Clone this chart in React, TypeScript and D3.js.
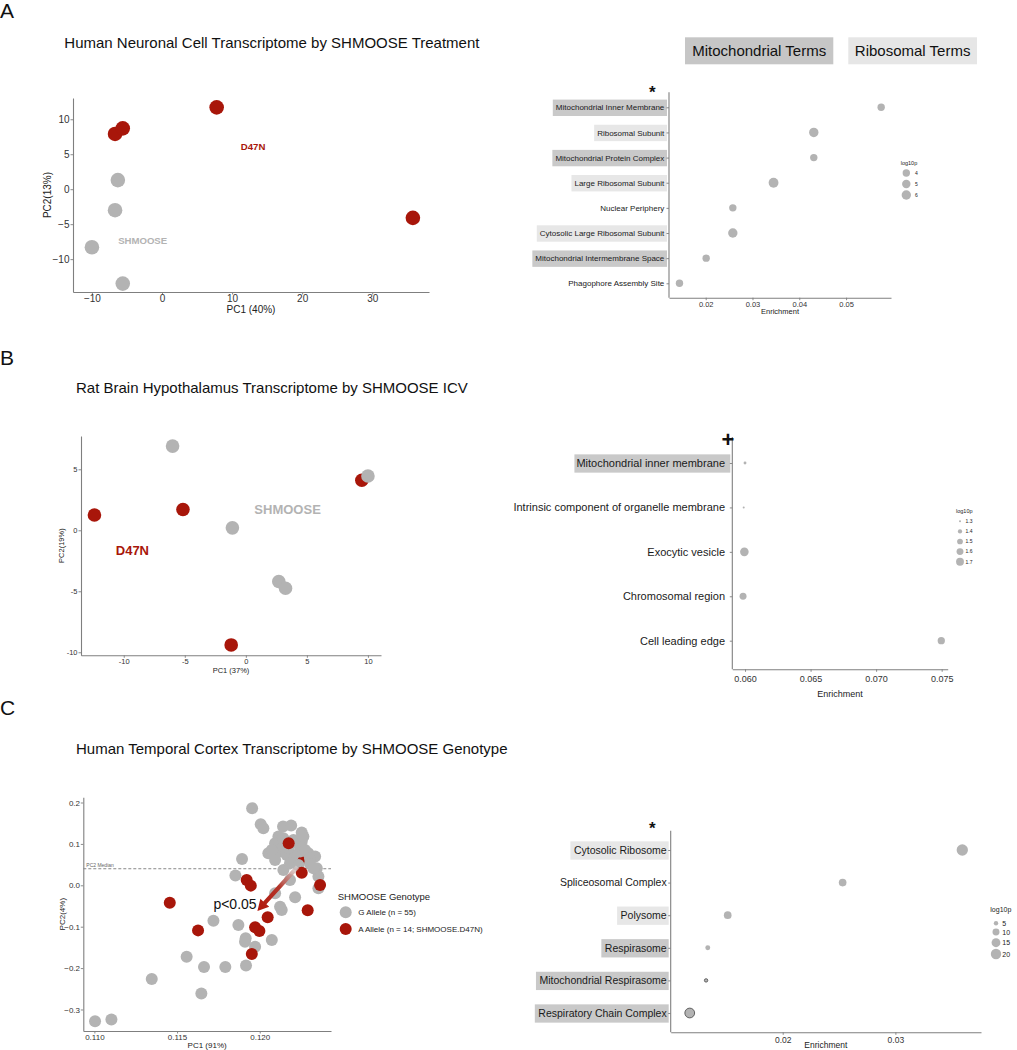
import React, { useEffect, useRef } from "react";
import * as d3 from "d3";

const FONT = "'Liberation Sans', Arial, Helvetica, sans-serif";
const GRAY = "#b3b3b3";
const RED = "#a8160a";
const AXIS_COLOR = "#7f7f7f";
const MITO_FILL = "#c9c9c9";
const RIBO_FILL = "#e7e7e7";

// ---------------- Panel A : PCA ----------------
const pcaA_shmoose = [
  { pc1: -6.3, pc2: 1.3 },
  { pc1: -6.7, pc2: -3.0 },
  { pc1: -10.0, pc2: -8.3 },
  { pc1: -5.6, pc2: -13.5 },
];
const pcaA_d47n = [
  { pc1: -6.7, pc2: 7.9 },
  { pc1: -5.6, pc2: 8.7 },
  { pc1: 7.8, pc2: 11.7 },
  { pc1: 35.8, pc2: -4.1 },
];
const pcaA_xTicks = [-10, 0, 10, 20, 30];
const pcaA_yTicks = [-10, -5, 0, 5, 10];

// ---------------- Panel A : enrichment ----------------
const enrA_terms = [
  "Mitochondrial Inner Membrane",
  "Ribosomal Subunit",
  "Mitochondrial Protein Complex",
  "Large Ribosomal Subunit",
  "Nuclear Periphery",
  "Cytosolic Large Ribosomal Subunit",
  "Mitochondrial Intermembrane Space",
  "Phagophore Assembly Site",
];
const enrA_group = ["mito", "ribo", "mito", "ribo", "none", "ribo", "mito", "none"];
const enrA_enrichment = [0.0575, 0.0431, 0.0431, 0.0345, 0.0258, 0.0258, 0.0201, 0.0144];
const enrA_log10p = [4.0, 6.0, 4.0, 6.5, 4.0, 6.0, 4.0, 4.0];
const enrA_xTicks = [0.02, 0.03, 0.04, 0.05];
const enrA_legend = [4, 5, 6];

// ---------------- Panel B : PCA ----------------
const pcaB_shmoose = [
  { pc1: -6.0, pc2: 6.9 },
  { pc1: -1.1, pc2: 0.2 },
  { pc1: 10.0, pc2: 4.45 },
  { pc1: 2.7, pc2: -4.2 },
  { pc1: 3.25, pc2: -4.75 },
];
const pcaB_d47n = [
  { pc1: -12.4, pc2: 1.25 },
  { pc1: -5.15, pc2: 1.7 },
  { pc1: 9.5, pc2: 4.1 },
  { pc1: -1.2, pc2: -9.4 },
];
const pcaB_xTicks = [-10, -5, 0, 5, 10];
const pcaB_yTicks = [-10, -5, 0, 5];

// ---------------- Panel B : enrichment ----------------
const enrB_terms = [
  "Mitochondrial inner membrane",
  "Intrinsic component of organelle membrane",
  "Exocytic vesicle",
  "Chromosomal region",
  "Cell leading edge",
];
const enrB_group = ["mito", "none", "none", "none", "none"];
const enrB_enrichment = [0.06, 0.0599, 0.05995, 0.05985, 0.07497];
const enrB_log10p = [1.33, 1.3, 1.78, 1.61, 1.64];
const enrB_xTicks = [0.06, 0.065, 0.07, 0.075];
const enrB_legend = [1.3, 1.4, 1.5, 1.6, 1.7];

// ---------------- Panel C : PCA ----------------
const pcaC_G = [
  { pc1: 0.11954, pc2: 0.1863 }, { pc1: 0.12006, pc2: 0.1476 }, { pc1: 0.12022, pc2: 0.1379 },
  { pc1: 0.12141, pc2: 0.1419 }, { pc1: 0.1219, pc2: 0.1444 }, { pc1: 0.12254, pc2: 0.1274 },
  { pc1: 0.12113, pc2: 0.1177 }, { pc1: 0.12093, pc2: 0.1016 }, { pc1: 0.12123, pc2: 0.0815 },
  { pc1: 0.12052, pc2: 0.0774 }, { pc1: 0.12093, pc2: 0.0613 }, { pc1: 0.12163, pc2: 0.0734 },
  { pc1: 0.12224, pc2: 0.1016 }, { pc1: 0.12254, pc2: 0.1056 }, { pc1: 0.12244, pc2: 0.0815 },
  { pc1: 0.12294, pc2: 0.0774 }, { pc1: 0.12335, pc2: 0.0694 }, { pc1: 0.12204, pc2: 0.0734 },
  { pc1: 0.11893, pc2: 0.0637 }, { pc1: 0.11853, pc2: 0.0234 }, { pc1: 0.12143, pc2: 0.0371 },
  { pc1: 0.12183, pc2: 0.0129 }, { pc1: 0.12355, pc2: 0.021 }, { pc1: 0.12345, pc2: 0.0411 },
  { pc1: 0.12355, pc2: -0.0073 }, { pc1: 0.12093, pc2: -0.0194 }, { pc1: 0.12214, pc2: -0.029 },
  { pc1: 0.12123, pc2: -0.0516 }, { pc1: 0.12133, pc2: -0.0597 }, { pc1: 0.1172, pc2: -0.0855 },
  { pc1: 0.11871, pc2: -0.096 }, { pc1: 0.11915, pc2: -0.1282 }, { pc1: 0.11911, pc2: -0.1363 },
  { pc1: 0.11972, pc2: -0.1484 }, { pc1: 0.12073, pc2: -0.1323 }, { pc1: 0.11558, pc2: -0.1726 },
  { pc1: 0.11663, pc2: -0.1976 }, { pc1: 0.11792, pc2: -0.1976 }, { pc1: 0.11917, pc2: -0.1935 },
  { pc1: 0.11347, pc2: -0.2266 }, { pc1: 0.11647, pc2: -0.2613 }, { pc1: 0.11004, pc2: -0.3282 },
  { pc1: 0.11103, pc2: -0.3242 }, { pc1: 0.12143, pc2: 0.1137 }, { pc1: 0.12173, pc2: 0.0895 },
  { pc1: 0.12204, pc2: 0.1097 }, { pc1: 0.12274, pc2: 0.0855 }, { pc1: 0.12304, pc2: 0.0653 },
  { pc1: 0.12183, pc2: 0.0532 }, { pc1: 0.12234, pc2: 0.0492 }, { pc1: 0.12304, pc2: 0.0516 },
  { pc1: 0.12264, pc2: 0.1177 }, { pc1: 0.12143, pc2: 0.0935 }, { pc1: 0.12073, pc2: 0.0855 },
  { pc1: 0.12325, pc2: 0.0411 },
];
// A allele samples partly hidden behind the G cluster
const pcaC_A_behind = [
  { pc1: 0.12204, pc2: 0.0694 },
  { pc1: 0.12264, pc2: 0.0653 },
];
const pcaC_A = [
  { pc1: 0.12175, pc2: 0.1016 }, { pc1: 0.12254, pc2: 0.0306 }, { pc1: 0.12365, pc2: 0.0008 },
  { pc1: 0.11921, pc2: 0.0129 }, { pc1: 0.11946, pc2: -0.0008 }, { pc1: 0.11456, pc2: -0.0419 },
  { pc1: 0.1229, pc2: -0.0605 }, { pc1: 0.12048, pc2: -0.0774 }, { pc1: 0.11627, pc2: -0.1089 },
  { pc1: 0.11972, pc2: -0.1016 }, { pc1: 0.11998, pc2: -0.1105 }, { pc1: 0.11952, pc2: -0.1661 },
];
const pcaC_xTicks = [0.11, 0.115, 0.12];
const pcaC_yTicks = [-0.3, -0.2, -0.1, 0, 0.1, 0.2];
const pcaC_median = 0.04;
const pcaC_arrow = { from: { pc1: 0.12228, pc2: 0.0442 }, to: { pc1: 0.11986, pc2: -0.062 } };

// ---------------- Panel C : enrichment ----------------
const enrC_terms = [
  "Cytosolic Ribosome",
  "Spliceosomal Complex",
  "Polysome",
  "Respirasome",
  "Mitochondrial Respirasome",
  "Respiratory Chain Complex",
];
const enrC_group = ["ribo", "none", "ribo", "mito", "mito", "mito"];
const enrC_enrichment = [0.03594, 0.02532, 0.01512, 0.01335, 0.0132, 0.01175];
const enrC_log10p = [23.5, 11.7, 11.7, 5.9, 3.7, 17.9];
const enrC_xTicks = [0.02, 0.03];
const enrC_legend = [5, 10, 15, 20];
const enrC_outlined = ["Mitochondrial Respirasome", "Respiratory Chain Complex"];

type Sel = d3.Selection<any, any, any, any>;

function text(g: Sel, x: number, y: number, s: string, size: number, opts: any = {}) {
  const t = g
    .append("text")
    .attr("x", x)
    .attr("y", y)
    .attr("font-family", FONT)
    .attr("font-size", size)
    .attr("fill", opts.fill || "#111")
    .attr("text-anchor", opts.anchor || "start")
    .attr("font-weight", opts.weight || "normal")
    .text(s);
  if (opts.rotate) t.attr("transform", `rotate(-90,${x},${y})`);
  return t;
}

function styleAxis(g: Sel, size: number) {
  g.attr("font-family", FONT).attr("font-size", size);
  g.select(".domain").attr("stroke", AXIS_COLOR).attr("stroke-width", 1.1);
  g.selectAll(".tick line").attr("stroke", AXIS_COLOR).attr("stroke-width", 0.9);
  g.selectAll(".tick text").attr("fill", "#333");
}

function drawPCA(svg: Sel, cfg: any, points: { pc1: number; pc2: number; color: string }[], labels: any[]) {
  const g = svg.append("g");
  const x = d3.scaleLinear().domain(cfg.xDomain).range([cfg.l, cfg.r]);
  const y = d3.scaleLinear().domain(cfg.yDomain).range([cfg.b, cfg.t]);
  const gx = g
    .append("g")
    .attr("transform", `translate(0,${cfg.b})`)
    .call(d3.axisBottom(x).tickValues(cfg.xTicks).tickSize(2.5).tickSizeOuter(0).tickPadding(cfg.xPad).tickFormat(cfg.xFmt));
  styleAxis(gx, cfg.tickFont);
  const gy = g
    .append("g")
    .attr("transform", `translate(${cfg.l},0)`)
    .call(d3.axisLeft(y).tickValues(cfg.yTicks).tickSize(2.5).tickSizeOuter(0).tickPadding(cfg.yPad).tickFormat(cfg.yFmt));
  styleAxis(gy, cfg.tickFont);

  text(g, (cfg.l + cfg.r) / 2, cfg.xTitleY, cfg.xTitle, cfg.titleFont, { anchor: "middle", fill: "#222" });
  text(g, cfg.yTitleX, (cfg.t + cfg.b) / 2, cfg.yTitle, cfg.titleFont, { anchor: "middle", fill: "#222", rotate: true });

  if (cfg.extra) cfg.extra(g, x, y);

  g.selectAll("circle.pt")
    .data(points)
    .join("circle")
    .attr("class", "pt")
    .attr("cx", (d) => x(d.pc1))
    .attr("cy", (d) => y(d.pc2))
    .attr("r", cfg.radius)
    .attr("fill", (d) => d.color);

  labels.forEach((lb) => {
    text(g, x(lb.pc1), y(lb.pc2) + lb.size * 0.36, lb.text, lb.size, { anchor: "middle", fill: lb.color, weight: "bold" });
  });
  return { g, x, y };
}

function drawEnrichment(svg: Sel, cfg: any, terms: string[], groups: string[], enr: number[], logp: number[], legendVals: number[], outlined: string[] = []) {
  const g = svg.append("g");
  const x = d3.scaleLinear().domain(cfg.xDomain).range([cfg.l, cfg.r]);
  const y = d3.scalePoint().domain(terms).range([cfg.yFirst, cfg.yLast]);
  const area = d3.scaleLinear().domain(cfg.sizeDomain).range(cfg.areaRange);
  const rad = (v: number) => Math.sqrt(Math.max(area(v), 0.6));

  const gx = g
    .append("g")
    .attr("transform", `translate(0,${cfg.b})`)
    .call(d3.axisBottom(x).tickValues(cfg.xTicks).tickSize(2.5).tickSizeOuter(0).tickPadding(cfg.xPad).tickFormat(d3.format(cfg.xFmt)));
  styleAxis(gx, cfg.tickFont);

  const gy = g
    .append("g")
    .attr("transform", `translate(${cfg.l},0)`)
    .call(d3.axisLeft(y).tickSize(2.5).tickSizeOuter(0).tickPadding(cfg.yPad));
  styleAxis(gy, cfg.labelFont);
  gy.select(".domain").remove();
  gy.selectAll(".tick text").attr("fill", "#1a1a1a");
  gy.selectAll(".tick").each(function (d: any) {
    const grp = groups[terms.indexOf(d)];
    if (grp === "none") return;
    const tick = d3.select(this);
    const bb = (tick.select("text").node() as SVGTextElement).getBBox();
    const left = bb.x - cfg.boxPadL;
    tick
      .insert("rect", ":first-child")
      .attr("x", left)
      .attr("width", -2 - left)
      .attr("y", -cfg.boxH / 2)
      .attr("height", cfg.boxH)
      .attr("fill", grp === "mito" ? MITO_FILL : RIBO_FILL);
  });
  g.append("line")
    .attr("x1", cfg.l)
    .attr("x2", cfg.l)
    .attr("y1", cfg.t)
    .attr("y2", cfg.b)
    .attr("stroke", AXIS_COLOR)
    .attr("stroke-width", 1.1);

  text(g, (cfg.l + cfg.r) / 2, cfg.xTitleY, "Enrichment", cfg.tickFont, { anchor: "middle", fill: "#222" });

  g.selectAll("circle.dot")
    .data(terms)
    .join("circle")
    .attr("class", "dot")
    .attr("cx", (d, i) => x(enr[i]))
    .attr("cy", (d) => y(d) as number)
    .attr("r", (d, i) => rad(logp[i]))
    .attr("fill", GRAY)
    .attr("stroke", (d) => (outlined.includes(d) ? "#555" : "none"))
    .attr("stroke-width", 0.9);

  // legend
  const lg = cfg.legend;
  text(g, lg.x, lg.titleY, "log10p", lg.titleFont, { fill: "#222" });
  legendVals.forEach((v, i) => {
    const cy = lg.y0 + i * lg.dy + (lg.extra ? lg.extra[i] : 0);
    g.append("circle").attr("cx", lg.cx).attr("cy", cy).attr("r", rad(v)).attr("fill", GRAY);
    text(g, lg.labelX, cy + lg.labelFont * 0.36, String(v), lg.labelFont, { fill: "#222" });
  });

  if (cfg.mark) {
    text(g, cfg.mark.x, cfg.mark.y, cfg.mark.s, cfg.mark.size, { anchor: "middle", weight: "bold", fill: "#111" });
  }
  return g;
}

function draw(svg: Sel) {
  svg.append("rect").attr("width", 1017).attr("height", 1050).attr("fill", "#fff");

  // panel letters
  text(svg, 0, 18, "A", 21, { fill: "#111" });
  text(svg, 0, 364.5, "B", 21, { fill: "#111" });
  text(svg, 0, 714.5, "C", 21, { fill: "#111" });

  // titles
  text(svg, 64.3, 48.3, "Human Neuronal Cell Transcriptome by SHMOOSE Treatment", 15, { fill: "#111" });
  text(svg, 76, 393.3, "Rat Brain Hypothalamus Transcriptome by SHMOOSE ICV", 15, { fill: "#111" });
  text(svg, 76, 754, "Human Temporal Cortex Transcriptome by SHMOOSE Genotype", 15, { fill: "#111" });

  // ---------- A PCA ----------
  drawPCA(
    svg,
    {
      l: 73, r: 429, t: 98, b: 292,
      xDomain: [-12.7, 38.1], yDomain: [-14.7, 13.04],
      xTicks: pcaA_xTicks, yTicks: pcaA_yTicks,
      xFmt: d3.format("d"), yFmt: d3.format("d"),
      tickFont: 10, xPad: 0.8, yPad: 1,
      xTitle: "PC1 (40%)", xTitleY: 312.9, yTitle: "PC2(13%)", yTitleX: 51.3, titleFont: 10,
      radius: 7.3,
    },
    [...pcaA_shmoose.map((p) => ({ ...p, color: GRAY })), ...pcaA_d47n.map((p) => ({ ...p, color: RED }))],
    [
      { text: "D47N", pc1: 13.0, pc2: 6.04, size: 9.6, color: RED },
      { text: "SHMOOSE", pc1: -2.76, pc2: -7.29, size: 9.6, color: GRAY },
    ]
  );

  // ---------- A enrichment ----------
  svg.append("rect").attr("x", 685).attr("y", 37.3).attr("width", 148.3).attr("height", 27).attr("fill", "#c6c6c6");
  svg.append("rect").attr("x", 848.3).attr("y", 37.3).attr("width", 128.7).attr("height", 27).attr("fill", "#e6e6e6");
  text(svg, 759.2, 56.2, "Mitochondrial Terms", 15, { anchor: "middle", fill: "#111" });
  text(svg, 912.6, 56.2, "Ribosomal Terms", 15, { anchor: "middle", fill: "#111" });

  drawEnrichment(
    svg,
    {
      l: 669, r: 891, t: 92.3, b: 297.7,
      xDomain: [0.01216, 0.0596], xTicks: enrA_xTicks, xFmt: ".2f",
      yFirst: 107.3, yLast: 283.3,
      sizeDomain: [4, 6], areaRange: [13.7, 22.1],
      tickFont: 7.5, xPad: 1.2, labelFont: 8, yPad: 2.2,
      boxH: 16.4, boxPadL: 3,
      xTitleY: 314.4,
      legend: { x: 900.7, titleY: 164.5, titleFont: 5.5, cx: 906.3, y0: 173, dy: 11, labelX: 915, labelFont: 5 },
      mark: { x: 652.3, y: 97.9, s: "*", size: 17 },
    },
    enrA_terms, enrA_group, enrA_enrichment, enrA_log10p, enrA_legend
  );

  // ---------- B PCA ----------
  drawPCA(
    svg,
    {
      l: 81, r: 381, t: 436, b: 655.3,
      xDomain: [-13.5, 11.07], yDomain: [-10.25, 7.73],
      xTicks: pcaB_xTicks, yTicks: pcaB_yTicks,
      xFmt: (d: number) => String(d), yFmt: (d: number) => String(d),
      tickFont: 7.5, xPad: 0.8, yPad: 1,
      xTitle: "PC1 (37%)", xTitleY: 672.7, yTitle: "PC2(19%)", yTitleX: 64.4, titleFont: 7.5,
      radius: 6.8,
    },
    [...pcaB_d47n.map((p) => ({ ...p, color: RED })), ...pcaB_shmoose.map((p) => ({ ...p, color: GRAY }))],
    [
      { text: "SHMOOSE", pc1: 3.42, pc2: 1.69, size: 13, color: GRAY },
      { text: "D47N", pc1: -9.29, pc2: -1.67, size: 13, color: RED },
    ]
  );

  // ---------- B enrichment ----------
  drawEnrichment(
    svg,
    {
      l: 732.3, r: 947.7, t: 437, b: 669.3,
      xDomain: [0.05903, 0.07546], xTicks: enrB_xTicks, xFmt: ".3f",
      yFirst: 463, yLast: 640.7,
      sizeDomain: [1.3, 1.7], areaRange: [1.0, 15.5],
      tickFont: 9, xPad: 3.7, labelFont: 11, yPad: 4.8,
      boxH: 18.3, boxPadL: 2,
      xTitleY: 697.2,
      legend: { x: 956, titleY: 513, titleFont: 5.5, cx: 960, y0: 521.3, dy: 10.1, labelX: 965.5, labelFont: 5 },
      mark: { x: 728, y: 447, s: "+", size: 22 },
    },
    enrB_terms, enrB_group, enrB_enrichment, enrB_log10p, enrB_legend
  );

  // ---------- C PCA ----------
  const cfgC = {
    l: 83.3, r: 331, t: 797.3, b: 1031,
    xDomain: [0.10933, 0.12431], yDomain: [-0.352, 0.2126],
    xTicks: pcaC_xTicks, yTicks: pcaC_yTicks,
    xFmt: d3.format(".3f"), yFmt: d3.format(".1f"),
    tickFont: 8, xPad: 1.2, yPad: 0.8,
    xTitle: "PC1 (91%)", xTitleY: 1047.8, yTitle: "PC2(4%)", yTitleX: 64.6, titleFont: 8,
    radius: 6,
    extra: (g: Sel, x: any, y: any) => {
      const ym = y(pcaC_median);
      g.append("line")
        .attr("x1", x.range()[0]).attr("x2", x.range()[1])
        .attr("y1", ym).attr("y2", ym)
        .attr("stroke", "#888").attr("stroke-width", 1).attr("stroke-dasharray", "3,2");
      text(g, x.range()[0] + 3, ym - 1.5, "PC2 Median", 5, { fill: "#666" });
      g.selectAll("circle.behind")
        .data(pcaC_A_behind)
        .join("circle")
        .attr("class", "behind")
        .attr("cx", (d: any) => x(d.pc1))
        .attr("cy", (d: any) => y(d.pc2))
        .attr("r", 6)
        .attr("fill", RED);
    },
  };
  const pc = drawPCA(
    svg,
    cfgC,
    [...pcaC_G.map((p) => ({ ...p, color: GRAY })), ...pcaC_A.map((p) => ({ ...p, color: RED }))],
    []
  );
  // arrow with gradient
  {
    const x0 = pc.x(pcaC_arrow.from.pc1), y0 = pc.y(pcaC_arrow.from.pc2);
    const x1 = pc.x(pcaC_arrow.to.pc1), y1 = pc.y(pcaC_arrow.to.pc2);
    const dx = x1 - x0, dy = y1 - y0, len = Math.hypot(dx, dy);
    const ux = dx / len, uy = dy / len, nx = -uy, ny = ux;
    const headL = 11, headW = 6, shaftW = 2.1;
    const bx = x1 - ux * headL, by = y1 - uy * headL;
    const defs = svg.append("defs");
    const grad = defs.append("linearGradient").attr("id", "arrowGrad").attr("gradientUnits", "userSpaceOnUse")
      .attr("x1", x0).attr("y1", y0).attr("x2", x1).attr("y2", y1);
    grad.append("stop").attr("offset", 0).attr("stop-color", "#d2cfcf").attr("stop-opacity", 0.7);
    grad.append("stop").attr("offset", 0.45).attr("stop-color", "#b4352a");
    grad.append("stop").attr("offset", 1).attr("stop-color", "#b0150a");
    const pts = [
      [x0 + nx * shaftW, y0 + ny * shaftW],
      [bx + nx * shaftW, by + ny * shaftW],
      [bx + nx * headW, by + ny * headW],
      [x1, y1],
      [bx - nx * headW, by - ny * headW],
      [bx - nx * shaftW, by - ny * shaftW],
      [x0 - nx * shaftW, y0 - ny * shaftW],
    ];
    pc.g.append("path").attr("d", "M" + pts.map((p) => p.join(",")).join("L") + "Z").attr("fill", "url(#arrowGrad)");
    text(pc.g, 235, 909.3, "p<0.05", 14, { anchor: "middle", fill: "#111" });
  }
  // genotype legend
  text(svg, 337.7, 900, "SHMOOSE Genotype", 9.5, { fill: "#222" });
  svg.append("circle").attr("cx", 345.7).attr("cy", 912.3).attr("r", 6).attr("fill", GRAY);
  svg.append("circle").attr("cx", 345.7).attr("cy", 929).attr("r", 6).attr("fill", RED);
  text(svg, 358.3, 915.2, "G Allele (n = 55)", 8, { fill: "#222" });
  text(svg, 358.3, 931.9, "A Allele (n = 14; SHMOOSE.D47N)", 8, { fill: "#222" });

  // ---------- C enrichment ----------
  drawEnrichment(
    svg,
    {
      l: 670.7, r: 981, t: 830.7, b: 1032.3,
      xDomain: [0.01006, 0.0376], xTicks: enrC_xTicks, xFmt: ".2f",
      yFirst: 850, yLast: 1013,
      sizeDomain: [5, 20], areaRange: [4.8, 27],
      tickFont: 8.5, xPad: 2.0, labelFont: 10.5, yPad: 1.5,
      boxH: 18.3, boxPadL: 3.5,
      xTitleY: 1047.6,
      legend: { x: 990.3, titleY: 911.5, titleFont: 7, cx: 996, y0: 923.3, dy: 10, extra: [0, -1.3, -0.6, 0.7], labelX: 1002.3, labelFont: 7 },
      mark: { x: 652.3, y: 833.9, s: "*", size: 17 },
    },
    enrC_terms, enrC_group, enrC_enrichment, enrC_log10p, enrC_legend, enrC_outlined
  );
}

export default function App() {
  const ref = useRef<SVGSVGElement>(null);
  useEffect(() => {
    const svg = d3.select(ref.current);
    svg.selectAll("*").remove();
    draw(svg as any);
  }, []);
  return (
    <svg
      ref={ref}
      width={1017}
      height={1050}
      style={{ position: "absolute", left: 0, top: 0, background: "#fff" }}
    />
  );
}
